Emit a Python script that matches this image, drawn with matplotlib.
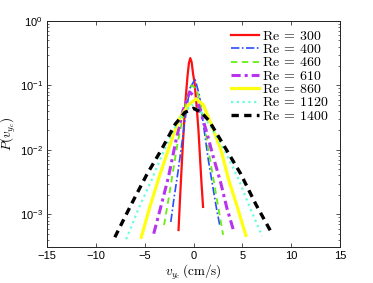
import matplotlib
matplotlib.use("Agg")
import matplotlib.pyplot as plt
from matplotlib.font_manager import FontProperties
from matplotlib.ticker import LogLocator, FixedLocator, NullFormatter

plt.rcParams['font.family'] = ['Liberation Sans', 'DejaVu Sans']
plt.rcParams['mathtext.fontset'] = 'custom'
plt.rcParams['mathtext.rm'] = 'Liberation Sans'
plt.rcParams['mathtext.it'] = 'Liberation Sans:italic'
plt.rcParams['mathtext.bf'] = 'Liberation Sans:bold'

# ---- data ----
re_labels = ['300', '400', '460', '610', '860', '1120', '1400']

x_300 = [-1.54, -1.4, -1.25, -1.1, -0.95, -0.8, -0.62, -0.48, -0.34, -0.2, -0.05, 0.1, 0.3, 0.5, 0.65, 0.8, 0.97]
y_300 = [5.7e-4, 1.6e-3, 4.5e-3, 1.2e-2, 3.0e-2, 6.5e-2, 0.14, 0.22, 0.265, 0.23, 0.15, 0.11, 5.0e-2, 2.0e-2, 8.0e-3, 3.2e-3, 1.3e-3]

x_400 = [-2.33, -2.0, -1.6, -1.2, -0.8, -0.4, 0.15, 0.6, 1.0, 1.5, 2.0, 2.4, 2.67]
y_400 = [7.6e-4, 1.8e-3, 4.5e-3, 1.25e-2, 3.5e-2, 8.9e-2, 0.125, 7.0e-2, 2.5e-2, 7.1e-3, 2.5e-3, 1.1e-3, 6.9e-4]

x_460 = [-3.02, -2.6, -2.2, -1.64, -1.1, -0.6, -0.2, 0.3, 0.8, 1.3, 1.8, 2.2, 2.6, 3.02]
y_460 = [6.8e-4, 1.6e-3, 3.8e-3, 1.25e-2, 3.2e-2, 7.1e-2, 0.1, 8.9e-2, 4.5e-2, 1.6e-2, 5.6e-3, 2.5e-3, 1.1e-3, 4.8e-4]

x_610 = [-4.08, -3.3, -2.57, -1.8, -1.1, -0.4, 0.3, 1.38, 2.0, 2.75, 3.4, 4.12]
y_610 = [5.0e-4, 1.4e-3, 3.8e-3, 1.4e-2, 4.0e-2, 7.9e-2, 6.3e-2, 1.8e-2, 7.9e-3, 3.2e-3, 1.26e-3, 5.4e-4]

x_860 = [-5.35, -4.5, -3.6, -2.5, -1.54, -0.5, 0.25, 1.0, 1.89, 2.8, 3.6, 4.5, 5.35]
y_860 = [4.4e-4, 1.26e-3, 3.5e-3, 1.1e-2, 2.9e-2, 5.0e-2, 6.2e-2, 5.0e-2, 2.3e-2, 1.0e-2, 3.4e-3, 1.26e-3, 4.7e-4]

x_1120 = [-6.9, -5.6, -4.3, -3.3, -2.22, -1.2, -0.2, 0.8, 2.0, 3.3, 4.5, 5.7, 7.0]
y_1120 = [4.1e-4, 1.26e-3, 3.4e-3, 7.9e-3, 1.8e-2, 3.5e-2, 5.0e-2, 3.8e-2, 2.0e-2, 8.9e-3, 3.8e-3, 1.35e-3, 4.6e-4]

x_1400 = [-8.06, -6.4, -4.8, -3.3, -1.88, -0.9, 0.0, 0.8, 1.6, 3.2, 4.8, 6.4, 8.06]
y_1400 = [4.4e-4, 1.4e-3, 4.1e-3, 1.0e-2, 2.5e-2, 3.8e-2, 4.4e-2, 3.8e-2, 2.8e-2, 1.1e-2, 4.3e-3, 1.4e-3, 4.9e-4]

xs = [x_300, x_400, x_460, x_610, x_860, x_1120, x_1400]
ys = [y_300, y_400, y_460, y_610, y_860, y_1120, y_1400]

styles = [
    dict(color='#ff1010', ls='-', lw=1.6),
    dict(color='#2a4dff', ls=(0, (5, 1.5, 1, 1.5)), lw=1.2),
    dict(color='#66ee11', ls=(0, (3.5, 2.5)), lw=1.3),
    dict(color='#b833ee', ls=(0, (3, 1.3, 1, 1.3)), lw=2.2),
    dict(color='#ffff10', ls='-', lw=2.3),
    dict(color='#66ffdd', ls=(0, (1, 1.6)), lw=1.6),
    dict(color='#000000', ls=(0, (2.2, 1.6)), lw=2.4),
]

fig = plt.figure(figsize=(3.73, 2.83), dpi=100)
ax = fig.add_axes([0.126, 0.127, 0.786, 0.799])

for x, y, lab, st in zip(xs, ys, re_labels, styles):
    ax.plot(x, y, label=r'$\mathrm{Re}\:{=}\:' + lab + '$', **st)

ax.set_yscale('log')
ax.set_xlim(-15, 15)
ax.set_ylim(3.1e-4, 1.0)
ax.xaxis.set_major_locator(FixedLocator([-15, -10, -5, 0, 5, 10, 15]))
ax.yaxis.set_major_locator(LogLocator(base=10, numticks=10))
ax.yaxis.set_minor_locator(LogLocator(base=10, subs=range(2, 10), numticks=10))
ax.yaxis.set_minor_formatter(NullFormatter())

ax.tick_params(which='both', direction='in', top=True, right=True, labelsize=8, color='#333333', pad=3)
ax.tick_params(which='major', length=3, width=0.6)
ax.tick_params(which='minor', length=1.6, width=0.5)
for sp in ax.spines.values():
    sp.set_linewidth(0.7)
    sp.set_color('#222222')

cm9 = FontProperties(size=9.5, math_fontfamily='cm')
ax.set_xlabel(r'$v_{y_c}\,(\mathrm{cm/s})$', fontproperties=cm9, labelpad=1)
ax.set_ylabel(r'$P(v_{y_c})$', fontproperties=cm9)
ax.yaxis.set_label_coords(-0.098, 0.5)

leg = ax.legend(loc='upper left', bbox_to_anchor=(0.628, 0.965), frameon=False,
                prop=FontProperties(size=10, math_fontfamily='cm'),
                handlelength=2.0, handletextpad=0.2, labelspacing=-0.05,
                borderpad=0.0, borderaxespad=0.0)

fig.savefig('out.png', dpi=100)
